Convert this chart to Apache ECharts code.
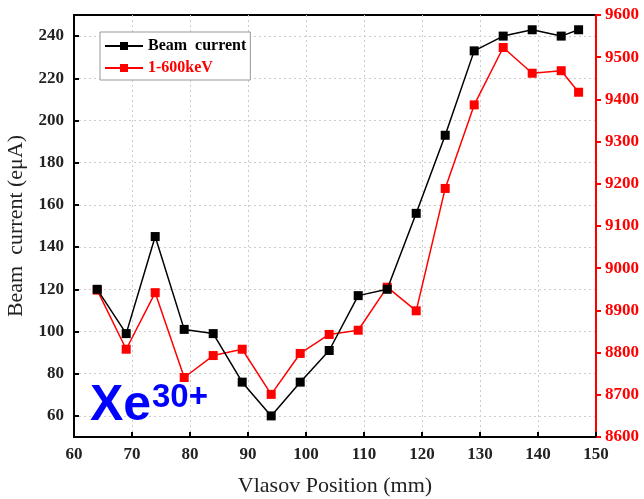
<!DOCTYPE html>
<html>
<head>
<meta charset="utf-8">
<script src="https://cdn.jsdelivr.net/npm/echarts@6/dist/echarts.min.js"></script>
<style>
  html, body { margin: 0; padding: 0; background: #fff; }
  #chart { width: 644px; height: 499px; }
</style>
</head>
<body>
<div id="chart"></div>
<script>
"use strict";

// Vlasov 位置 (mm)
const positions = [64, 69, 74, 79, 84, 89, 94, 99, 104, 109, 114, 119, 124, 129, 134, 139, 144, 147];
// 束流 (eμA), 左轴
const beamCurrent = [120, 99, 145, 101, 99, 76, 60, 76, 91, 117, 120, 156, 193, 233, 240, 243, 240, 243];
// 1-600keV, 右轴
const keV600 = [8948, 8808, 8942, 8741, 8793, 8808, 8701, 8798, 8843, 8853, 8955, 8899, 9189, 9387, 9523, 9462, 9468, 9417];
const leftTicks = [60, 80, 100, 120, 140, 160, 180, 200, 220, 240];

const SERIF = "Liberation Serif";
const SANS = "Liberation Sans";
const zip = (xs, ys) => xs.map((x, i) => [x, ys[i]]);

const chart = echarts.init(document.getElementById("chart"));
chart.setOption({
  animation: false,
  grid: { left: 74, right: 48, top: 15, bottom: 62, show: true, borderColor: "#000", borderWidth: 2,
          containLabel: false, outerBoundsMode: "none" },
  legend: {
    orient: "vertical", left: 100, top: 32, itemGap: 6, itemWidth: 38, itemHeight: 10,
    padding: [6, 4, 4, 4], borderColor: "#999", borderWidth: 1, backgroundColor: "#fff",
    textStyle: { fontFamily: SERIF, fontWeight: "bold", fontSize: 16 },
    data: [
      { name: "Beam  current", textStyle: { color: "#000" } },
      { name: "1-600keV", textStyle: { color: "#f00" } },
    ],
  },
  xAxis: {
    type: "value", min: 60, max: 150, interval: 10,
    name: "Vlasov Position (mm)", nameLocation: "middle", nameGap: 38,
    nameTextStyle: { fontFamily: SERIF, fontSize: 22, color: "#222" },
    axisLine: { lineStyle: { color: "#000", width: 2 } },
    axisTick: { inside: true, length: 5, lineStyle: { color: "#000", width: 2 } },
    axisLabel: { fontFamily: SERIF, fontWeight: "bold", fontSize: 17, color: "#222", margin: 9 },
    splitLine: { show: true, lineStyle: { color: "#ccc", type: [2, 3], width: 1 } },
  },
  yAxis: [
    {
      type: "value", min: 50, max: 250,
      name: "Beam  current (eμA)", nameLocation: "middle", nameGap: 46,
      nameTextStyle: { fontFamily: SERIF, fontSize: 22, color: "#222" },
      axisLine: { show: true, lineStyle: { color: "#000", width: 2 } },
      axisTick: { show: true, inside: true, length: 5, customValues: leftTicks, lineStyle: { color: "#000", width: 2 } },
      axisLabel: { fontFamily: SERIF, fontWeight: "bold", fontSize: 17, color: "#222", margin: 10, customValues: leftTicks },
      splitLine: { show: true, lineStyle: { color: "#ccc", type: [2, 3], width: 1 } },
    },
    {
      type: "value", min: 8600, max: 9600, interval: 100, position: "right",
      axisLine: { show: true, lineStyle: { color: "#f00", width: 2 } },
      axisTick: { show: true, inside: false, length: 5, lineStyle: { color: "#f00", width: 2 } },
      axisLabel: { fontFamily: SERIF, fontWeight: "bold", fontSize: 17, color: "#f00", margin: 9,
                   formatter: v => String(v) },
      splitLine: { show: false },
    },
  ],
  series: [
    {
      name: "Beam  current", type: "line", yAxisIndex: 0, data: zip(positions, beamCurrent),
      symbol: "rect", symbolSize: 9, color: "#000", lineStyle: { width: 1.5 }, z: 3,
    },
    {
      name: "1-600keV", type: "line", yAxisIndex: 1, data: zip(positions, keV600),
      symbol: "rect", symbolSize: 9, color: "#f00", lineStyle: { width: 1.5 }, z: 2,
    },
  ],
  graphic: [
    {
      type: "text", left: 90, top: 381, z: 10,
      style: { text: "Xe", fontFamily: SANS, fontWeight: "bold", fontSize: 50, fill: "#0000ff" },
    },
    {
      type: "text", left: 152, top: 381, z: 10,
      style: { text: "30+", fontFamily: SANS, fontWeight: "bold", fontSize: 33, fill: "#0000ff" },
    },
  ],
});
</script>
</body>
</html>
